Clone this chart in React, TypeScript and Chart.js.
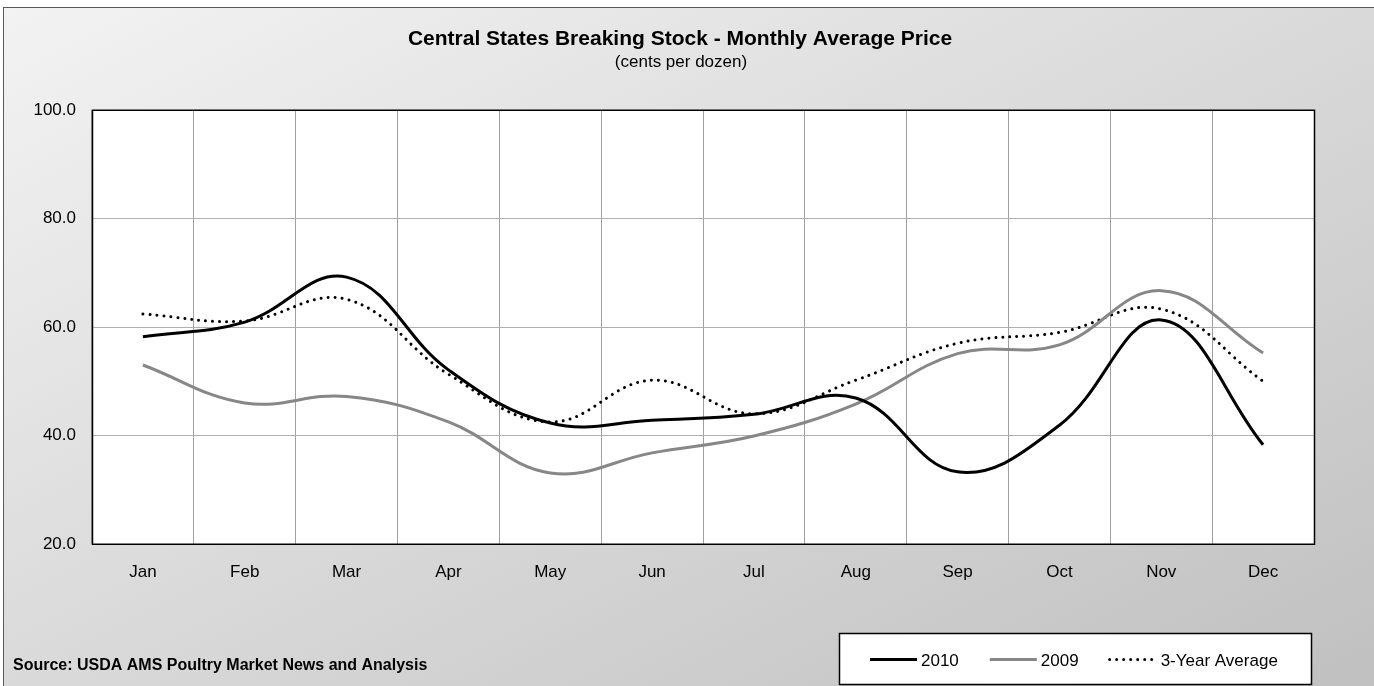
import React, { useEffect, useRef } from "react";
import { Chart, registerables } from "chart.js";

Chart.register(...registerables);

const months = ["Jan", "Feb", "Mar", "Apr", "May", "Jun", "Jul", "Aug", "Sep", "Oct", "Nov", "Dec"];
const values2010 = [58.2, 60.9, 69.2, 52.1, 42.3, 42.8, 43.9, 46.9, 33.3, 41.9, 61.3, 38.3];
const values2009 = [53.0, 46.0, 47.2, 42.5, 33.1, 36.8, 39.9, 45.8, 55.1, 56.7, 66.7, 55.2];
const values3yr = [62.4, 61.1, 65.1, 51.3, 42.5, 50.2, 44.0, 50.2, 57.0, 59.0, 63.3, 50.0];
const yTicks = [20, 40, 60, 80, 100];

const seriesLabels = ["2010", "2009", "3-Year Average"];
const titleText = "Central States Breaking Stock - Monthly Average Price";
const subtitleText = "(cents per dozen)";
const sourceText = "Source: USDA AMS Poultry Market News and Analysis";

const FONT = "'Liberation Sans', Arial, Helvetica, sans-serif";

const decorPlugin = {
  id: "decor",
  beforeDraw(chart: any) {
    const { ctx, width, height, chartArea: ca } = chart;
    ctx.save();
    ctx.fillStyle = "#ffffff";
    ctx.fillRect(0, 0, width, height);
    const W = width;
    const H = height;
    const a = (2 * W * H) / (W * W + H * H);
    const g = ctx.createLinearGradient(0, 0, a * H, a * W);
    g.addColorStop(0, "#f3f3f3");
    g.addColorStop(1, "#c0c0c0");
    ctx.fillStyle = g;
    ctx.fillRect(3, 7, W, H);
    ctx.strokeStyle = "#5a5a5a";
    ctx.lineWidth = 1;
    ctx.strokeRect(3.5, 7.5, W + 20, H + 20);
    ctx.fillStyle = "#ffffff";
    ctx.fillRect(ca.left, ca.top, ca.right - ca.left, ca.bottom - ca.top);
    ctx.restore();
  },
  afterDraw(chart: any) {
    const { ctx, chartArea: ca } = chart;
    ctx.save();
    // plot border
    ctx.strokeStyle = "#000000";
    ctx.lineWidth = 1.5;
    ctx.strokeRect(ca.left + 0.5, ca.top + 0.25, ca.right - ca.left, ca.bottom - ca.top);

    // title
    ctx.fillStyle = "#000000";
    ctx.textAlign = "center";
    ctx.textBaseline = "alphabetic";
    ctx.font = `bold 21px ${FONT}`;
    ctx.fillText(titleText, 680, 45);
    ctx.font = `17px ${FONT}`;
    ctx.fillText(subtitleText, 681, 67);

    // source
    ctx.textAlign = "left";
    ctx.font = `bold 16px ${FONT}`;
    ctx.fillText(sourceText, 13, 670);

    // legend
    const bx = 839, by = 633, bw = 472, bh = 51;
    ctx.fillStyle = "#ffffff";
    ctx.fillRect(bx, by, bw, bh);
    ctx.strokeStyle = "#000000";
    ctx.lineWidth = 1.5;
    ctx.strokeRect(bx + 0.5, by + 0.5, bw, bh);
    ctx.font = `17px ${FONT}`;
    ctx.textBaseline = "alphabetic";
    let x = 870;
    const ly = 659.5;
    chart.data.datasets.forEach((ds: any) => {
      ctx.save();
      ctx.strokeStyle = ds.borderColor;
      ctx.lineWidth = ds.borderWidth;
      ctx.lineCap = ds.borderCapStyle || "butt";
      ctx.setLineDash(ds.borderDash || []);
      ctx.beginPath();
      ctx.moveTo(x, ly);
      ctx.lineTo(x + 47, ly);
      ctx.stroke();
      ctx.restore();
      ctx.fillStyle = "#000000";
      ctx.fillText(ds.label, x + 51, 666);
      x += 51 + ctx.measureText(ds.label).width + 31;
    });
    ctx.restore();
  },
};

export default function App() {
  const ref = useRef<HTMLCanvasElement | null>(null);

  useEffect(() => {
    document.body.style.margin = "0";
    const canvas = ref.current;
    if (!canvas) return;
    const chart = new Chart(canvas, {
      type: "line",
      data: {
        labels: months,
        datasets: [
          {
            label: seriesLabels[0],
            data: values2010,
            borderColor: "#000000",
            borderWidth: 3,
            pointRadius: 0,
            tension: 0.4,
            fill: false,
          },
          {
            label: seriesLabels[1],
            data: values2009,
            borderColor: "#878787",
            borderWidth: 3,
            pointRadius: 0,
            tension: 0.4,
            fill: false,
          },
          {
            label: seriesLabels[2],
            data: values3yr,
            borderColor: "#000000",
            borderWidth: 3,
            borderDash: [0.01, 7],
            borderCapStyle: "round",
            pointRadius: 0,
            tension: 0.4,
            fill: false,
          },
        ],
      },
      options: {
        responsive: false,
        animation: false,
        devicePixelRatio: 1,
        layout: { padding: { top: 110, right: 60, left: 0, bottom: 0 } },
        plugins: {
          legend: { display: false },
          title: { display: false },
          tooltip: { enabled: false },
        },
        scales: {
          x: {
            offset: true,
            grid: { offset: true, color: "#a0a0a0", lineWidth: 1, drawTicks: false },
            border: { display: false },
            ticks: { color: "#000000", font: { family: FONT, size: 17 }, padding: 18, maxRotation: 0 },
            afterFit: (scale: any) => {
              scale.height = 142;
            },
          },
          y: {
            min: yTicks[0],
            max: yTicks[yTicks.length - 1],
            grid: { color: "#b0b0b0", lineWidth: 1, drawTicks: false },
            border: { display: false },
            ticks: {
              stepSize: yTicks[1] - yTicks[0],
              color: "#000000",
              font: { family: FONT, size: 17 },
              padding: 16,
              callback: (v: any) => Number(v).toFixed(1),
            },
            afterFit: (scale: any) => {
              scale.width = 92;
            },
          },
        },
      },
      plugins: [decorPlugin],
    });
    return () => chart.destroy();
  }, []);

  return (
    <canvas
      ref={ref}
      width={1374}
      height={686}
      style={{ display: "block", width: "1374px", height: "686px" }}
    />
  );
}
